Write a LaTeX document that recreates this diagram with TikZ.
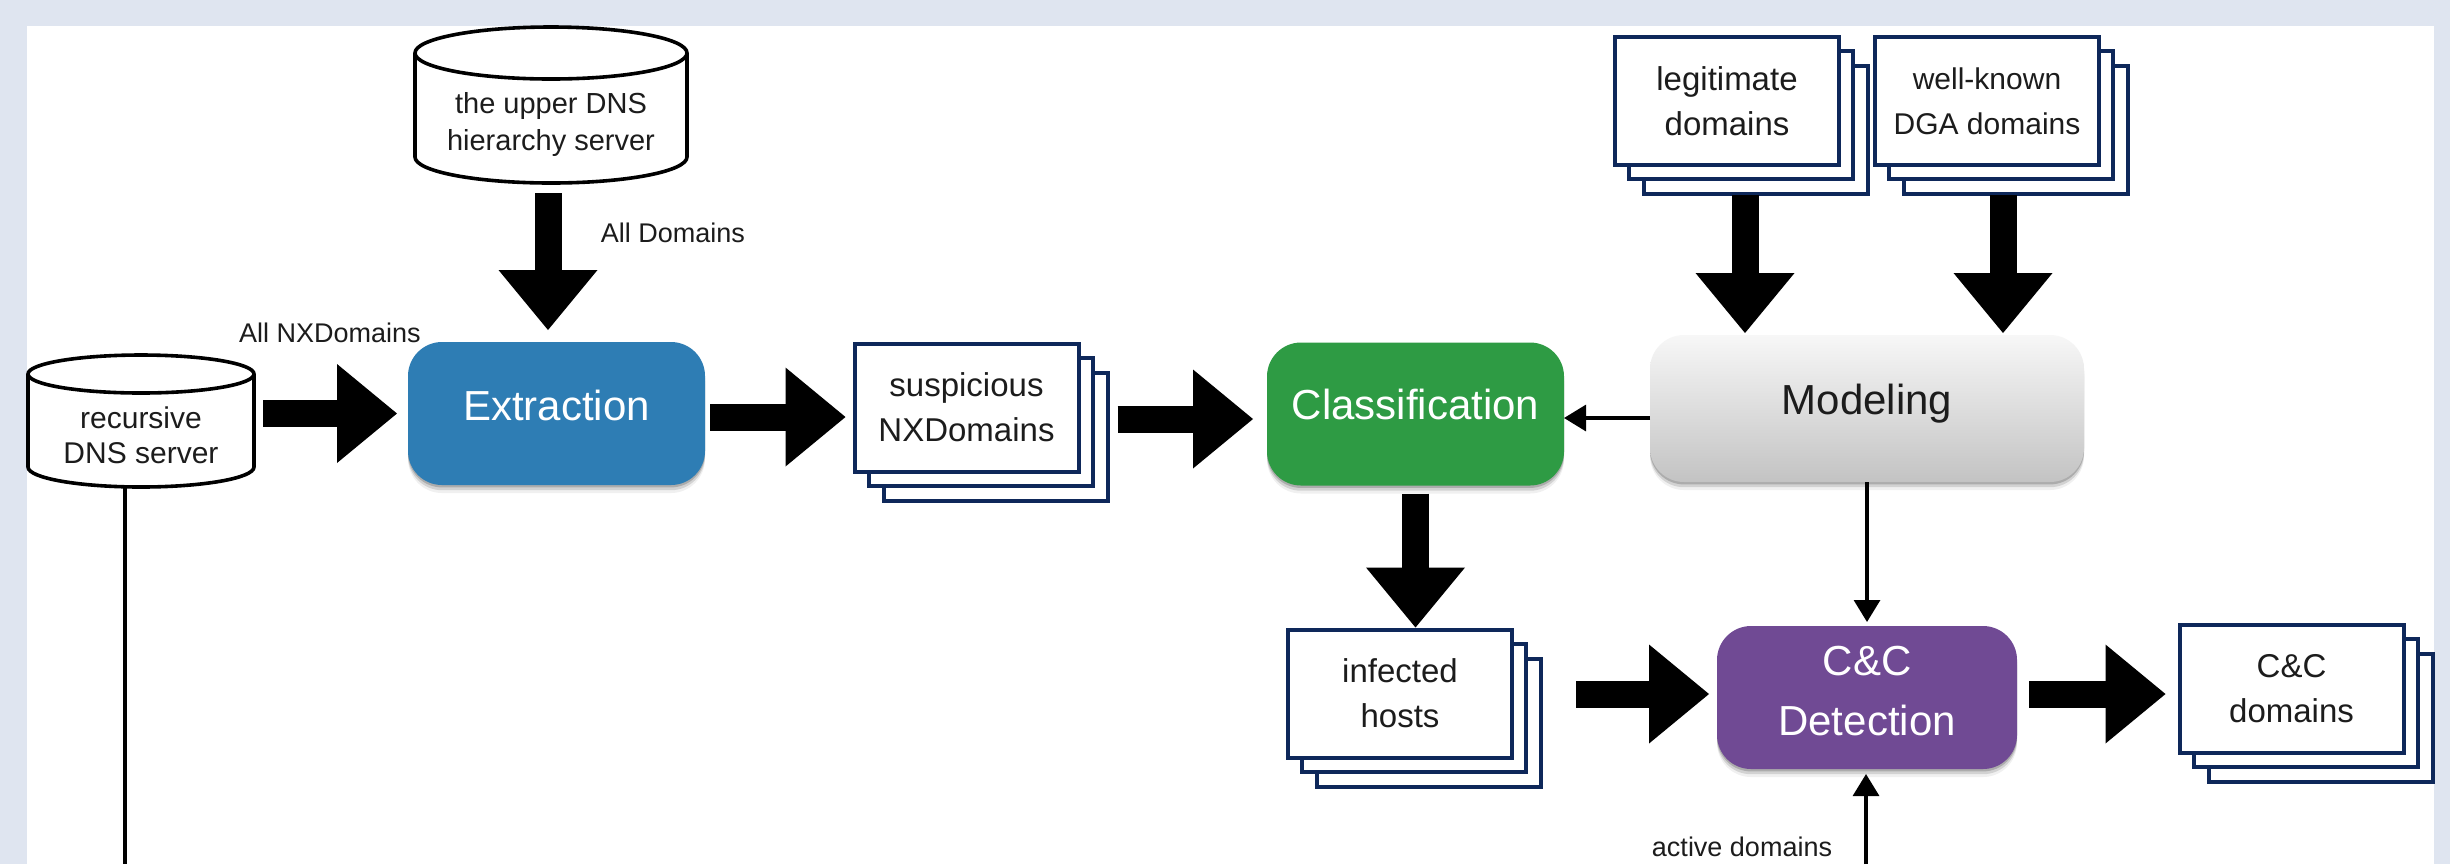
\documentclass[tikz,border=0pt]{standalone}
\usepackage{fontspec}
\setmainfont{Liberation Sans}
\usetikzlibrary{arrows.meta,shadows,calc}

\definecolor{pagebg}{RGB}{223,229,240}
\definecolor{extblue}{RGB}{46,125,180}
\definecolor{clsgreen}{RGB}{46,155,68}
\definecolor{ccpurple}{RGB}{112,74,148}
\definecolor{stacknavy}{RGB}{14,40,90}
\definecolor{modtop}{RGB}{247,247,247}
\definecolor{modbot}{RGB}{195,195,195}
\definecolor{inktext}{RGB}{28,28,28}

\tikzset{
  softshadow/.style={
    general shadow={shadow xshift=0pt, shadow yshift=-1.2pt, opacity=.18, fill=black},
    general shadow={shadow xshift=0pt, shadow yshift=-2.6pt, opacity=.12, fill=black},
    general shadow={shadow xshift=0pt, shadow yshift=-4pt, opacity=.06, fill=black}},
  procbox/.style={rounded corners=17pt, minimum width=148.5pt, minimum height=71.5pt,
    inner sep=0pt, outer sep=0pt, softshadow},
  proctext/.style={inner sep=0pt, text=white, align=center,
    font=\fontsize{21}{30}\selectfont},
  stackcopy/.style={general shadow={shadow xshift=#1, shadow yshift=-#1,
    draw=stacknavy, fill=white, line width=2pt}},
  docstack/.style={draw=stacknavy, line width=2pt, fill=white,
    minimum width=112pt, minimum height=64pt, inner sep=0pt, outer sep=0pt,
    align=center, text=inktext, font=\fontsize{16.5}{22.5}\selectfont,
    stackcopy=14.5pt, stackcopy=7pt},
  cylnode/.style={inner sep=0pt, outer sep=0pt},
  cyltext/.style={inner sep=0pt, align=center, text=inktext},
  cylline/.style={draw=black, line width=1.8pt},
  fatarrow/.style={draw=black, line width=13.5pt,
    -{Triangle[length=30pt, width=49.5pt, line width=0pt]}},
  thinarrow/.style={draw=black, line width=1.6pt,
    -{Triangle[length=11pt, width=13pt]}},
  plainline/.style={draw=black, line width=1.6pt},
  edgelabel/.style={font=\fontsize{13.5}{16}\selectfont, text=inktext, inner sep=0pt},
}

\begin{document}
\begin{tikzpicture}[x=0.5pt, y=-0.5pt]
  % page and white panel
  \useasboundingbox (0,0) rectangle (2450,864);
  \fill[pagebg] (0,0) rectangle (2450,864);
  \fill[white] (27,26) rectangle (2434,864);

  % DNS servers (cylinders)
  \node[cylnode, minimum width=136pt, minimum height=78pt] (upper) at (551,105) {};
  \draw[cylline] ([yshift=-13pt]upper.north) ellipse [x radius=68pt, y radius=13pt];
  \draw[cylline] ([yshift=-13pt]upper.north west) -- ([yshift=13pt]upper.south west)
    arc [start angle=180, end angle=360, x radius=68pt, y radius=13pt]
    -- ([yshift=-13pt]upper.north east);
  \node[cyltext, font=\fontsize{14.5}{18.5}\selectfont] (upper-text) at (551,124)
    {the upper DNS\\hierarchy server};

  \node[cylnode, minimum width=113pt, minimum height=66pt] (recursive) at (141,421) {};
  \draw[cylline] ([yshift=-9.5pt]recursive.north) ellipse [x radius=56.5pt, y radius=9.5pt];
  \draw[cylline] ([yshift=-9.5pt]recursive.north west) -- ([yshift=10pt]recursive.south west)
    arc [start angle=180, end angle=360, x radius=56.5pt, y radius=10pt]
    -- ([yshift=-9.5pt]recursive.north east);
  \node[cyltext, font=\fontsize{15}{17.5}\selectfont] (recursive-text) at (141,435)
    {recursive\\DNS server};

  % processing steps
  \node[procbox, fill=extblue] (extraction) at (556.5,413.5) {};
  \node[proctext] (extraction-text) at (556.5,405) {Extraction};
  \node[procbox, fill=clsgreen] (classification) at (1415.5,414) {};
  \node[proctext] (classification-text) at (1415.5,404) {Classification};
  \node[procbox, minimum width=217pt, minimum height=73.5pt,
        top color=modtop, bottom color=modbot] (modeling) at (1867,408.5) {};
  \node[proctext, text=inktext] (modeling-text) at (1867,404) {Modeling};
  \node[procbox, fill=ccpurple, minimum width=150pt] (cc) at (1867,697.5) {};
  \node[proctext] (cc-text) at (1867,691) {C\&C\\Detection};

  % document stacks
  \node[docstack] (susp) at (966.5,407.5) {suspicious\\NXDomains};
  \node[docstack] (legit) at (1727,101) {legitimate\\domains};
  \node[docstack, font=\fontsize{15}{22.5}\selectfont] (dga) at (1987,101) {well-known\\DGA domains};
  \node[docstack] (infected) at (1400,693.5) {infected\\hosts};
  \node[docstack] (ccdom) at (2291.5,688.5) {C\&C\\domains};

  % main data flow
  \draw[fatarrow, shorten <=5pt, shorten >=6pt]
    ($(upper.south)+(-3,0)$) -- ($(upper.south |- extraction.north)+(-3,0)$);
  \draw[fatarrow, shorten <=4.5pt, shorten >=5.5pt]
    (recursive.east |- extraction.west) -- (extraction.west);
  \draw[fatarrow, shorten <=2.5pt, shorten >=4.5pt]
    ($(extraction.east)+(0,3.5)$) -- ($(extraction.east -| susp.west)+(0,3.5)$);
  \draw[fatarrow, shorten <=19.5pt, shorten >=7pt]
    ($(susp.east |- classification.west)+(0,5)$) -- ($(classification.west)+(0,5)$);
  \draw[fatarrow, shorten <=15pt, shorten >=1pt]
    ($(legit.south)+(18,0)$) -- ($(legit.south |- modeling.north)+(18,0)$);
  \draw[fatarrow, shorten <=15pt, shorten >=1pt]
    ($(dga.south)+(16,0)$) -- ($(dga.south |- modeling.north)+(16,0)$);
  \draw[fatarrow, shorten <=4pt, shorten >=1pt]
    (classification.south) -- (classification.south |- infected.north);
  \draw[fatarrow, shorten <=32pt, shorten >=4pt]
    ($(infected.east |- cc.west)+(0,-3.5)$) -- ($(cc.west)+(0,-3.5)$);
  \draw[fatarrow, shorten <=6pt, shorten >=7pt]
    ($(cc.east)+(0,-3.5)$) -- ($(cc.east -| ccdom.west)+(0,-3.5)$);

  % model feedback and side inputs
  \draw[thinarrow]
    ($(modeling.west)+(0,9.5)$) -- ($(classification.east |- modeling.west)+(0,9.5)$);
  \draw[thinarrow, shorten >=2pt] (modeling.south) -- (modeling.south |- cc.north);
  \coordinate (feed) at (1866,864);
  \draw[thinarrow, shorten >=2.5pt] (feed) -- (feed |- cc.south);
  \coordinate (recout) at (125,864);
  \draw[plainline] (recout |- recursive.south) -- (recout);

  % flow labels
  \node[edgelabel] (lblall) at (673,233) {All Domains};
  \node[edgelabel] (lblnx) at (330,333) {All NXDomains};
  \node[edgelabel] (lblactive) at (1742,847) {active domains};
\end{tikzpicture}
\end{document}
